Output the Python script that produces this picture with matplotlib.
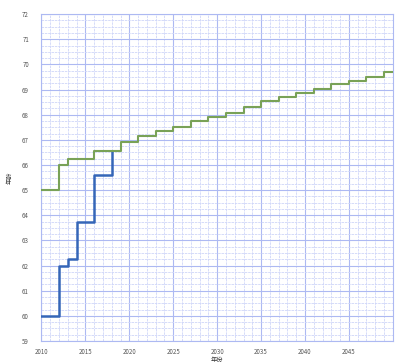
import matplotlib.pyplot as plt
from matplotlib.ticker import MultipleLocator

plt.rcParams['font.family'] = ['Noto Sans CJK SC', 'DejaVu Sans']

# step series (value holds from year until next year)
blue_years = [2010, 2012, 2013, 2014, 2016, 2018]
blue_vals = [60.0, 62.0, 62.25, 63.75, 65.6, 66.57]

green_years = [2010, 2012, 2013, 2016, 2019, 2021, 2023, 2025, 2027, 2029,
               2031, 2033, 2035, 2037, 2039, 2041, 2043, 2045, 2047, 2049, 2050]
green_vals = [65.0, 66.0, 66.25, 66.57, 66.93, 67.16, 67.35, 67.53, 67.76, 67.93,
              68.07, 68.32, 68.53, 68.70, 68.88, 69.03, 69.21, 69.36, 69.52, 69.69, 69.69]

x_ticks = [2010, 2015, 2020, 2025, 2030, 2035, 2040, 2045]
y_ticks = list(range(59, 73))

fig = plt.figure(figsize=(3.97, 3.64), dpi=100)
ax = fig.add_axes([0.1045, 0.063, 0.885, 0.898])

ax.step(blue_years, blue_vals, where='post', color='#3566b8', lw=1.8, zorder=3)
ax.step(green_years, green_vals, where='post', color='#79a257', lw=1.5, zorder=4)

ax.set_xlim(2010, 2050)
ax.set_ylim(59, 72)
ax.set_xticks(x_ticks)
ax.set_yticks(y_ticks)
ax.xaxis.set_minor_locator(MultipleLocator(1))
ax.yaxis.set_minor_locator(MultipleLocator(0.25))

ax.grid(which='major', color='#adb9f2', lw=0.8)
ax.grid(which='minor', color='#cfd6f8', lw=0.6, ls=(0, (3, 1)))
ax.set_axisbelow(True)
for s in ax.spines.values():
    s.set_color('#adb9f2')
    s.set_linewidth(0.8)

ax.tick_params(which='both', length=0, labelsize=4.4, labelcolor='#555555')
ax.tick_params(axis='y', pad=9)
ax.tick_params(axis='x', pad=5)

ax.set_ylabel('年龄', fontsize=4.5, color='#333333', labelpad=6)
ax.set_xlabel('年份', fontsize=4.5, color='#333333', labelpad=0)
ax.xaxis.set_label_coords(0.5, -0.047)

fig.savefig('out.png', dpi=100)
